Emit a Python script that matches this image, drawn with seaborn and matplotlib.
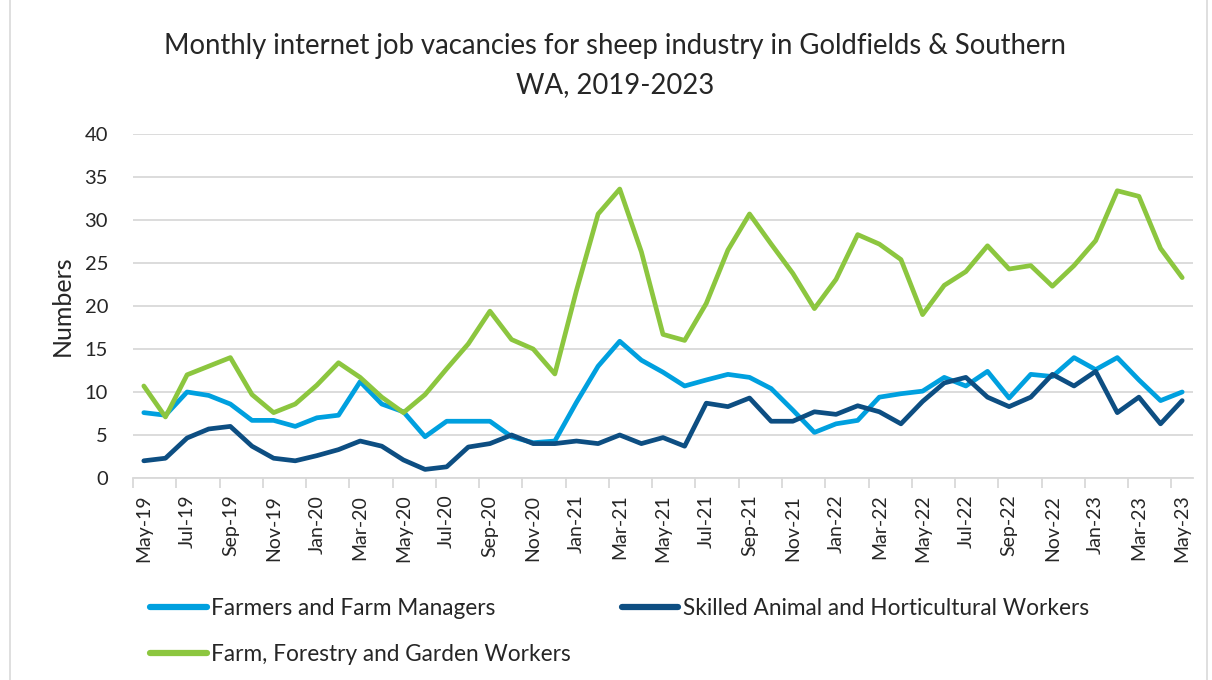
import matplotlib
matplotlib.use("Agg")
import matplotlib.pyplot as plt
import matplotlib.patches as mpatches
from matplotlib.lines import Line2D
import numpy as np
import pandas as pd
import seaborn as sns

months = list(pd.date_range("2019-05-01", "2023-05-01", freq="MS").strftime("%b-%y"))

farmers = [7.6, 7.3, 10.0, 9.6, 8.6, 6.7, 6.7, 6.0, 7.0, 7.3,
           11.2, 8.6, 7.7, 4.8, 6.6, 6.6, 6.6, 4.8, 4.1, 4.3,
           8.8, 13.0, 15.9, 13.7, 12.3, 10.7, 11.4, 12.05, 11.7, 10.4,
           7.9, 5.3, 6.3, 6.7, 9.4, 9.8, 10.1, 11.7, 10.7, 12.4,
           9.3, 12.05, 11.8, 14.0, 12.6, 14.0, 11.4, 9.0, 10.0]
skilled = [2.0, 2.3, 4.65, 5.7, 6.0, 3.7, 2.3, 2.0, 2.6, 3.3,
           4.3, 3.7, 2.1, 1.0, 1.3, 3.6, 4.0, 5.0, 4.0, 4.0,
           4.3, 4.0, 5.0, 4.0, 4.7, 3.7, 8.7, 8.3, 9.3, 6.6,
           6.6, 7.7, 7.4, 8.4, 7.7, 6.3, 8.9, 11.05, 11.7, 9.4,
           8.3, 9.4, 12.05, 10.7, 12.4, 7.6, 9.4, 6.3, 9.0]
farm_forestry = [10.7, 7.1, 12.0, 13.0, 14.0, 9.7, 7.6, 8.6, 10.8, 13.4,
                 11.7, 9.4, 7.6, 9.7, 12.7, 15.6, 19.4, 16.1, 15.0, 12.1,
                 21.8, 30.7, 33.6, 26.3, 16.7, 16.0, 20.3, 26.5, 30.7, 27.2,
                 23.8, 19.7, 23.1, 28.3, 27.2, 25.4, 19.0, 22.4, 24.0, 27.0,
                 24.3, 24.7, 22.3, 24.7, 27.6, 33.4, 32.75, 26.7, 23.3]

series_names = ["Farmers and Farm Managers",
                "Skilled Animal and Horticultural Workers",
                "Farm, Forestry and Garden Workers"]
colors = ["#00a0df", "#0d4e82", "#8cc63f"]

idx = np.arange(len(months))
df = pd.concat([
    pd.DataFrame({"i": idx, "value": farmers, "series": series_names[0]}),
    pd.DataFrame({"i": idx, "value": skilled, "series": series_names[1]}),
    pd.DataFrame({"i": idx, "value": farm_forestry, "series": series_names[2]}),
])

sns.set_theme(style="white")
plt.rcParams["font.family"] = ["Lato", "DejaVu Sans"]

W, H = 1212, 680
fig = plt.figure(figsize=(W / 100, H / 100), dpi=100)
ax = fig.add_axes([133 / W, 1 - 478 / H, (1193 - 133) / W, (478 - 134) / H])

sns.lineplot(data=df, x="i", y="value", hue="series", hue_order=series_names,
             palette=colors, linewidth=3.4, ax=ax, legend=False,
             solid_joinstyle="round", solid_capstyle="round")

ax.set_xlim(-0.5, len(months) - 0.5)
ax.set_ylim(0, 40)
ax.set_yticks(np.arange(0, 41, 5))
ax.yaxis.grid(True, color="#d9d9d9", linewidth=1.3)
ax.set_axisbelow(True)
ax.tick_params(axis="y", length=0, pad=18, labelsize=14.5, labelcolor="#262626")

ax.set_xticks(idx[::2])
ax.set_xticklabels(months[::2], rotation=90, fontsize=14, color="#262626")
ax.set_xticks(np.arange(-0.5, len(months), 2), minor=True)
ax.tick_params(axis="x", which="major", length=0, pad=12)
ax.tick_params(axis="x", which="minor", length=7, width=1.3, color="#d9d9d9",
               direction="out", bottom=True)

for s in ["top", "right", "left"]:
    ax.spines[s].set_visible(False)
ax.spines["bottom"].set_color("#d9d9d9")
ax.spines["bottom"].set_linewidth(1.3)

ax.set_xlabel("")
ax.set_ylabel("")
fig.text(62 / W, 1 - 306 / H, "Numbers", rotation=90, ha="center", va="center",
         fontsize=18, color="#262626")

fig.text(615 / W, 1 - 33 / H,
         "Monthly internet job vacancies for sheep industry in Goldfields & Southern\nWA, 2019-2023",
         ha="center", va="top", fontsize=19.8, color="#262626", linespacing=1.62)

handles = [Line2D([0], [0], color=colors[0], lw=4.5),
           Line2D([0], [0], color=colors[2], lw=4.5),
           Line2D([0], [0], color=colors[1], lw=4.5)]
labels = [series_names[0], series_names[2], series_names[1]]
fig.legend(handles, labels, ncol=2, loc="upper left",
           bbox_to_anchor=(150 / W, 1 - 598 / H), frameon=False, borderpad=0,
           borderaxespad=0, fontsize=16.3, handlelength=2.5, handletextpad=0.2,
           columnspacing=2.25, labelspacing=1.1, labelcolor="#262626")

fig.patches.append(mpatches.Rectangle((10 / W, -0.01), (1207 - 10) / W, 1.02,
                                      transform=fig.transFigure, fill=False,
                                      edgecolor="#d9d9d9", linewidth=1.2))

fig.savefig("out.png", dpi=100, facecolor="white")
